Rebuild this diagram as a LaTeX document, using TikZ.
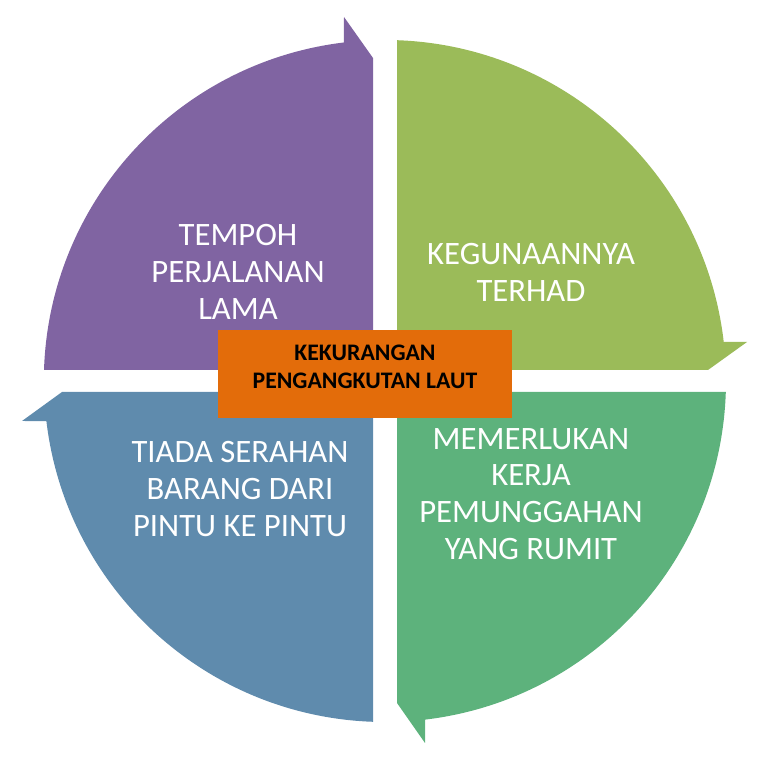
\documentclass[tikz,border=0pt]{standalone}
\usepackage{fontspec}
\setmainfont{Carlito}
\definecolor{myPurple}{RGB}{128,100,162}
\definecolor{myLightGreen}{RGB}{155,187,89}
\definecolor{myGreen}{RGB}{93,178,124}
\definecolor{myBlue}{RGB}{95,139,173}
\definecolor{myOrange}{RGB}{227,108,10}

\begin{document}
\begin{tikzpicture}[%
    x=0.02cm, y=0.02cm,
    every node/.style={
        align=center,
        inner sep=0pt,
    },
    segtext/.style={
        text=white,
        font=\fontsize{18.6}{21}\selectfont,
    },
]
\useasboundingbox (0,0) rectangle (767,771);

% draw the four segments
\fill[myPurple] (44,401) arc[start angle=178.15,end angle=96.9,radius=341]
    -- (344,754) -- (373,713) -- (373,401) -- cycle;
\fill[myLightGreen] (397,401) -- (397,730.8)
    arc[start angle=87.98,end angle=6.57,radius=341]
    -- (747,429) -- (708,401) -- cycle;
\fill[myGreen] (397,379) -- (725.8,379)
    arc[start angle=-1.85,end angle=-83.26,radius=341]
    -- (425,28) -- (397,68) -- cycle;
\fill[myBlue] (373,379) -- (373,49.2)
    arc[start angle=267.98,end angle=186.74,radius=341]
    -- (22,350) -- (62,379) -- cycle;

% place segment labels
\node[segtext] (tempoh) at (238,499) {TEMPOH\\PERJALANAN\\LAMA};
\node[segtext] (guna) at (531,499) {KEGUNAANNYA\\TERHAD};
\node[segtext] (muat) at (531,277) {MEMERLUKAN\\KERJA\\PEMUNGGAHAN\\YANG RUMIT};
\node[segtext] (serah) at (240,282) {TIADA SERAHAN\\BARANG DARI\\PINTU KE PINTU};

% draw centre box
\node[fill=myOrange, minimum width=5.88cm, minimum height=1.76cm] (pusat) at (365,397) {};
\node[font=\fontsize{13.5}{16}\selectfont\bfseries] (kurang) at (365,404)
    {KEKURANGAN\\PENGANGKUTAN LAUT};
\end{tikzpicture}
\end{document}
